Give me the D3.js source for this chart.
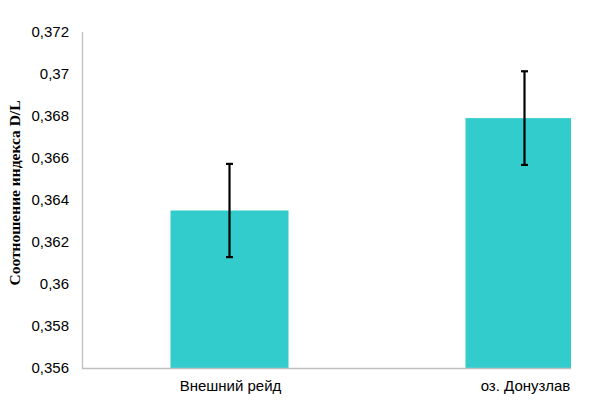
<!DOCTYPE html>
<html>
<head>
<meta charset="utf-8">
<script src="https://cdn.jsdelivr.net/npm/d3@7"></script>
<style>
body{margin:0;background:#fff}
</style>
</head>
<body>
<div id="graph"></div>
<script>
"use strict"
var categories=['Внешний рейд','оз. Донузлав']
var means=[0.3635,0.3679]
var errors=[0.00222,0.00223]
var yTicks=[0.356,0.358,0.36,0.362,0.364,0.366,0.368,0.37,0.372]

var W=605,H=403
var mLeft=82,mTop=32,mBottom=368,clipRight=571

var svg=d3.select('#graph').append('svg').attr('width',W).attr('height',H)

var x=d3.scaleBand().domain(categories).range([mLeft,mLeft+590]).paddingInner(0.6).paddingOuter(0.3)
var y=d3.scaleLinear().domain([0.356,0.372]).range([mBottom,mTop])

svg.append('defs').append('clipPath').attr('id','plot')
  .append('rect').attr('x',mLeft).attr('y',0).attr('width',clipRight-mLeft).attr('height',H)

var plot=svg.append('g').attr('clip-path','url(#plot)')

// bars
plot.selectAll('rect.bar').data(categories).enter().append('rect')
  .attr('class','bar')
  .attr('x',function(d){return x(d)})
  .attr('width',x.bandwidth())
  .attr('y',function(d,i){return y(means[i])})
  .attr('height',function(d,i){return mBottom-y(means[i])})
  .attr('fill','#33cccc')

// error bars
var eb=svg.append('g').attr('stroke','#000').attr('stroke-width',2.2)
categories.forEach(function(c,i){
  var cx=x(c)+x.bandwidth()/2
  var y0=y(means[i]-errors[i]),y1=y(means[i]+errors[i])
  eb.append('line').attr('x1',cx).attr('x2',cx).attr('y1',y0).attr('y2',y1)
  eb.append('line').attr('x1',cx-3.5).attr('x2',cx+3.5).attr('y1',y0).attr('y2',y0)
  eb.append('line').attr('x1',cx-3.5).attr('x2',cx+3.5).attr('y1',y1).attr('y2',y1)
})

// axes lines
svg.append('line').attr('x1',mLeft+0.5).attr('x2',mLeft+0.5).attr('y1',mTop).attr('y2',mBottom)
  .attr('stroke','#bfbfbf').attr('stroke-width',1.3)
svg.append('line').attr('x1',mLeft).attr('x2',clipRight).attr('y1',mBottom+0.5).attr('y2',mBottom+0.5)
  .attr('stroke','#bfbfbf').attr('stroke-width',1.3)

// y tick labels
svg.selectAll('text.ytick').data(yTicks).enter().append('text')
  .attr('class','ytick')
  .attr('x',69).attr('y',function(d){return y(d)})
  .attr('dy','0.36em')
  .attr('text-anchor','end')
  .attr('font-family','Liberation Sans, Arial, sans-serif').attr('font-size',15)
  .attr('fill','#000')
  .text(function(d){return String(+d.toFixed(3)).replace('.',',')})

// x labels
svg.selectAll('text.xlab').data(categories).enter().append('text')
  .attr('class','xlab')
  .attr('x',function(d){return x(d)+x.bandwidth()/2+1})
  .attr('y',391)
  .attr('text-anchor','middle')
  .attr('font-family','Liberation Sans, Arial, sans-serif').attr('font-size',15)
  .attr('fill','#000')
  .text(function(d){return d})

// y title
svg.append('text')
  .attr('transform','translate(20 193) rotate(-90)')
  .attr('text-anchor','middle')
  .attr('font-family','Liberation Serif, Times New Roman, serif').attr('font-size',15.5).attr('font-weight','bold')
  .attr('fill','#000')
  .text('Соотношение индекса D/L')
</script>
</body>
</html>
